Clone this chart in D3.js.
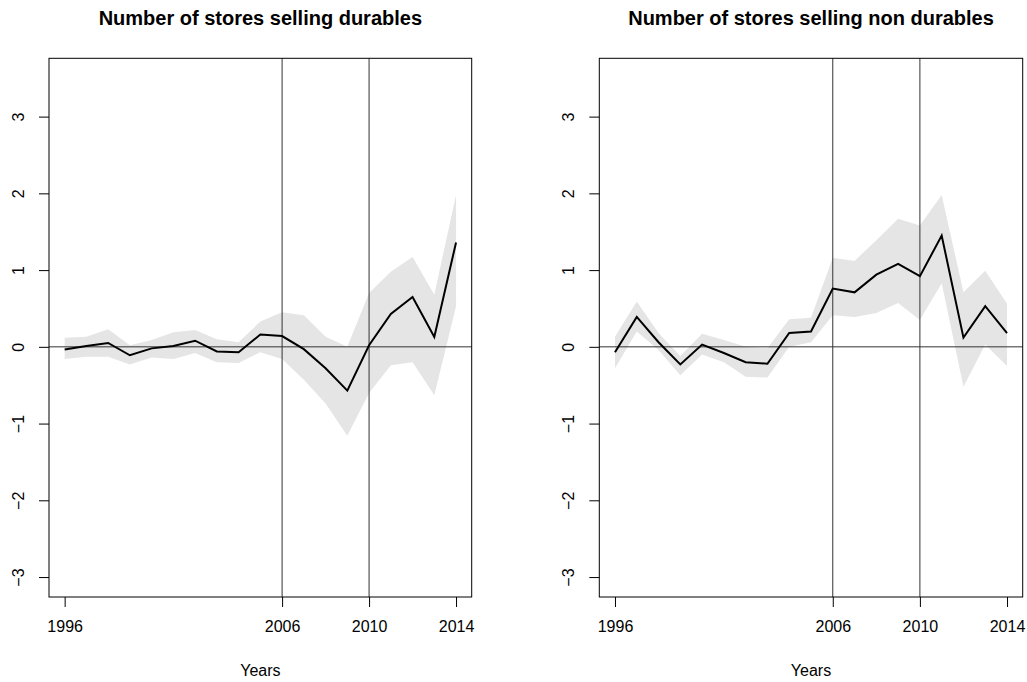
<!DOCTYPE html>
<html>
<head>
<meta charset="utf-8">
<script src="https://cdn.jsdelivr.net/npm/d3@7"></script>
<style>
  html, body { margin: 0; padding: 0; background: #fff; }
  svg { display: block; font-family: "Liberation Sans", Arial, Helvetica, sans-serif; }
</style>
</head>
<body>
<svg id="chart" width="1027" height="682"></svg>
<script>
// ---- data ----
const years = [1996,1997,1998,1999,2000,2001,2002,2003,2004,2005,2006,2007,2008,2009,2010,2011,2012,2013,2014];
const xTickLabels = [1996, 2006, 2010, 2014];
const yTickLabels = [-3, -2, -1, 0, 1, 2, 3];
const vLines = [2006, 2010];
const titles = ["Number of stores selling durables", "Number of stores selling non durables"];
const xLabel = "Years";

const durEst   = [-0.035, 0.01, 0.05, -0.11, -0.02, 0.01, 0.08, -0.06, -0.07, 0.16, 0.14, -0.03, -0.28, -0.57, 0.02, 0.43, 0.65, 0.13, 1.36];
const durUpper = [0.12, 0.13, 0.23, 0.02, 0.09, 0.19, 0.22, 0.10, 0.06, 0.33, 0.45, 0.41, 0.13, 0.00, 0.70, 0.98, 1.17, 0.68, 1.98];
const durLower = [-0.16, -0.13, -0.13, -0.23, -0.14, -0.16, -0.08, -0.20, -0.21, -0.07, -0.16, -0.43, -0.74, -1.16, -0.60, -0.24, -0.20, -0.63, 0.53];

const nonEst   = [-0.07, 0.39, 0.06, -0.23, 0.03, -0.08, -0.20, -0.22, 0.18, 0.20, 0.76, 0.71, 0.94, 1.08, 0.92, 1.45, 0.12, 0.53, 0.18];
const nonUpper = [0.13, 0.59, 0.18, -0.12, 0.17, 0.09, 0.00, -0.02, 0.36, 0.38, 1.16, 1.12, 1.39, 1.67, 1.58, 1.98, 0.71, 0.99, 0.56];
const nonLower = [-0.28, 0.20, -0.04, -0.37, -0.10, -0.20, -0.39, -0.40, 0.00, 0.06, 0.41, 0.39, 0.44, 0.57, 0.35, 0.83, -0.52, 0.03, -0.25];

const xLim = [1996, 2014];
const yLim = [-3, 3.5];

// ---- layout ----
const svg = d3.select("#chart");
const panels = [
  { left: 49, right: 471.7, est: durEst, up: durUpper, lo: durLower, title: titles[0] },
  { left: 599.3, right: 1022.7, est: nonEst, up: nonUpper, lo: nonLower, title: titles[1] }
];
const plotTop = 58.3, plotBottom = 597;

function expand(lim) { const d = (lim[1] - lim[0]) * 0.04; return [lim[0] - d, lim[1] + d]; }

panels.forEach(p => {
  const x = d3.scaleLinear().domain(expand(xLim)).range([p.left, p.right]);
  const y = d3.scaleLinear().domain(expand(yLim)).range([plotBottom, plotTop]);
  const g = svg.append("g");
  const rows = years.map((yr, i) => ({ yr, est: p.est[i], up: p.up[i], lo: p.lo[i] }));

  // band
  g.append("path")
    .datum(rows)
    .attr("d", d3.area().x(d => x(d.yr)).y0(d => y(d.lo)).y1(d => y(d.up)))
    .attr("fill", "#e5e5e5")
    .attr("stroke", "none");

  // reference lines
  vLines.forEach(v => {
    g.append("line")
      .attr("x1", x(v)).attr("x2", x(v)).attr("y1", plotTop).attr("y2", plotBottom)
      .attr("stroke", "#333").attr("stroke-width", 1);
  });
  g.append("line")
    .attr("x1", p.left).attr("x2", p.right).attr("y1", y(0)).attr("y2", y(0))
    .attr("stroke", "#333").attr("stroke-width", 1);

  // estimate line
  g.append("path")
    .datum(rows)
    .attr("d", d3.line().x(d => x(d.yr)).y(d => y(d.est)))
    .attr("fill", "none")
    .attr("stroke", "#000")
    .attr("stroke-width", 2)
    .attr("stroke-linejoin", "miter");

  // box
  g.append("rect")
    .attr("x", p.left).attr("y", plotTop)
    .attr("width", p.right - p.left).attr("height", plotBottom - plotTop)
    .attr("fill", "none").attr("stroke", "#000").attr("stroke-width", 1);

  // x axis
  const xAxis = d3.axisBottom(x).tickValues(xTickLabels).tickFormat(d3.format("d")).tickSize(10).tickPadding(8);
  const xa = g.append("g").attr("transform", `translate(0,${plotBottom})`).call(xAxis);
  xa.select(".domain").remove();
  xa.selectAll(".tick line").attr("stroke", "#000");
  xa.selectAll(".tick text").attr("font-size", 16).attr("fill", "#000")
    .attr("font-family", "Liberation Sans, Arial, sans-serif").attr("dy", "1.05em");

  // y axis
  const yAxis = d3.axisLeft(y).tickValues(yTickLabels).tickFormat(d => d < 0 ? "\u2212" + Math.abs(d) : d).tickSize(10).tickPadding(0);
  const ya = g.append("g").attr("transform", `translate(${p.left},0)`).call(yAxis);
  ya.select(".domain").remove();
  ya.selectAll(".tick line").attr("stroke", "#000");
  ya.selectAll(".tick text")
    .attr("font-size", 16).attr("fill", "#000")
    .attr("font-family", "Liberation Sans, Arial, sans-serif")
    .attr("x", null).attr("dy", null)
    .attr("text-anchor", "middle")
    .attr("transform", "translate(-25,0) rotate(-90)");

  // title
  g.append("text")
    .attr("x", (p.left + p.right) / 2).attr("y", 25)
    .attr("text-anchor", "middle")
    .attr("font-size", 20).attr("font-weight", "bold").attr("fill", "#000")
    .text(p.title);

  // x label
  g.append("text")
    .attr("x", (p.left + p.right) / 2).attr("y", 676)
    .attr("text-anchor", "middle")
    .attr("font-size", 16).attr("fill", "#000")
    .text(xLabel);
});
</script>
</body>
</html>
